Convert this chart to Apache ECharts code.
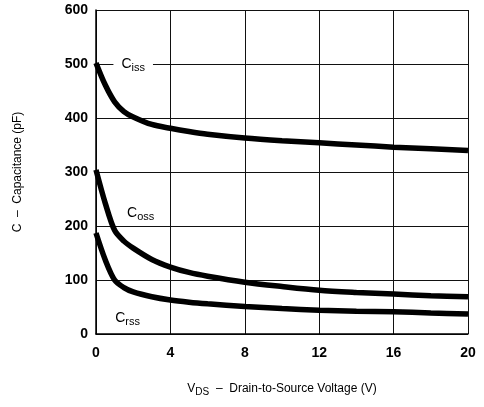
<!DOCTYPE html>
<html><head><meta charset="utf-8">
<script src="https://cdn.jsdelivr.net/npm/echarts@6/dist/echarts.min.js"></script>
<style>html,body{margin:0;padding:0;background:#fff}#c{width:484px;height:407px}</style>
</head><body><div id="c"></div>
<script>
const vds = [0, 0.5, 1, 1.5, 2, 3, 4, 5, 6, 8, 10, 12, 14, 16, 18, 20];
const ciss = [502, 461, 430, 412, 402, 388, 381, 375, 370, 363, 358, 354, 350, 346, 343, 340];
const coss = [304, 242, 192, 172, 159, 138, 124, 114, 107, 96, 88, 81, 77, 74, 71, 69];
const crss = [187, 137, 100, 86, 78, 69, 63, 59, 56, 51, 47, 44, 42, 41, 39, 37];
const xTicks = [0, 4, 8, 12, 16, 20];
const yTicks = [0, 100, 200, 300, 400, 500, 600];

const font = '"Liberation Sans", Arial, sans-serif';
function pairs(v){ return vds.map((x,i)=>[x, v[i]]); }
function mk(sub, coord, bg){
  return {
    symbol: 'circle', symbolSize: 1,
    itemStyle: { color: 'rgba(0,0,0,0)' },
    silent: true,
    data: [{ coord: coord }],
    label: {
      show: true, position: 'inside',
      formatter: '{a|C}{b|' + sub + '}',
      backgroundColor: bg ? '#fff' : 'transparent',
      padding: [2, 8, 2, 8],
      rich: {
        a: { fontFamily: font, fontSize: 14, color: '#000' },
        b: { fontFamily: font, fontSize: 11, color: '#000', padding: [8, 0, 0, 0] }
      }
    }
  };
}
const chart = echarts.init(document.getElementById('c'), null, {renderer: 'canvas'});
const lineStyle = { color: '#000', width: 5.5 };
chart.setOption({
  animation: false,
  backgroundColor: '#fff',
  grid: { left: 96, right: 16, top: 10, bottom: 73, containLabel: false },
  xAxis: {
    type: 'value', min: 0, max: 20, interval: 4,
    name: '{a|V}{b|DS}{a|  –  Drain-to-Source Voltage (V)}',
    nameLocation: 'middle', nameGap: 47,
    nameTextStyle: { rich: {
      a: { fontFamily: font, fontSize: 12, color: '#000' },
      b: { fontFamily: font, fontSize: 10, color: '#000', padding: [6,0,0,0] } } },
    axisLine: { show: true, lineStyle: { color: '#000', width: 1.5 } },
    axisTick: { show: false },
    axisLabel: { fontFamily: font, fontSize: 14, fontWeight: 'bold', color: '#000', margin: 12,
      formatter: v => xTicks.includes(v) ? String(v) : '' },
    splitLine: { show: true, lineStyle: { color: '#111', width: 1 } }
  },
  yAxis: {
    type: 'value', min: 0, max: 600, interval: 100,
    name: 'C  –  Capacitance (pF)',
    nameLocation: 'middle', nameGap: 72,
    nameTextStyle: { fontFamily: font, fontSize: 12, color: '#000' },
    axisLine: { show: true, lineStyle: { color: '#000', width: 1.5 } },
    axisTick: { show: false },
    axisLabel: { fontFamily: font, fontSize: 14, fontWeight: 'bold', color: '#000', margin: 8,
      formatter: v => yTicks.includes(v) ? String(v) : '' },
    splitLine: { show: true, lineStyle: { color: '#111', width: 1 } }
  },
  series: [
    { type: 'line', data: pairs(ciss), smooth: 0.3, symbol: 'none', lineStyle,
      markPoint: mk('iss', [2.0, 500], true) },
    { type: 'line', data: pairs(coss), smooth: 0.3, symbol: 'none', lineStyle,
      markPoint: mk('oss', [2.4, 224], false) },
    { type: 'line', data: pairs(crss), smooth: 0.3, symbol: 'none', lineStyle,
      markPoint: mk('rss', [1.7, 30], false) }
  ]
});
</script></body></html>
